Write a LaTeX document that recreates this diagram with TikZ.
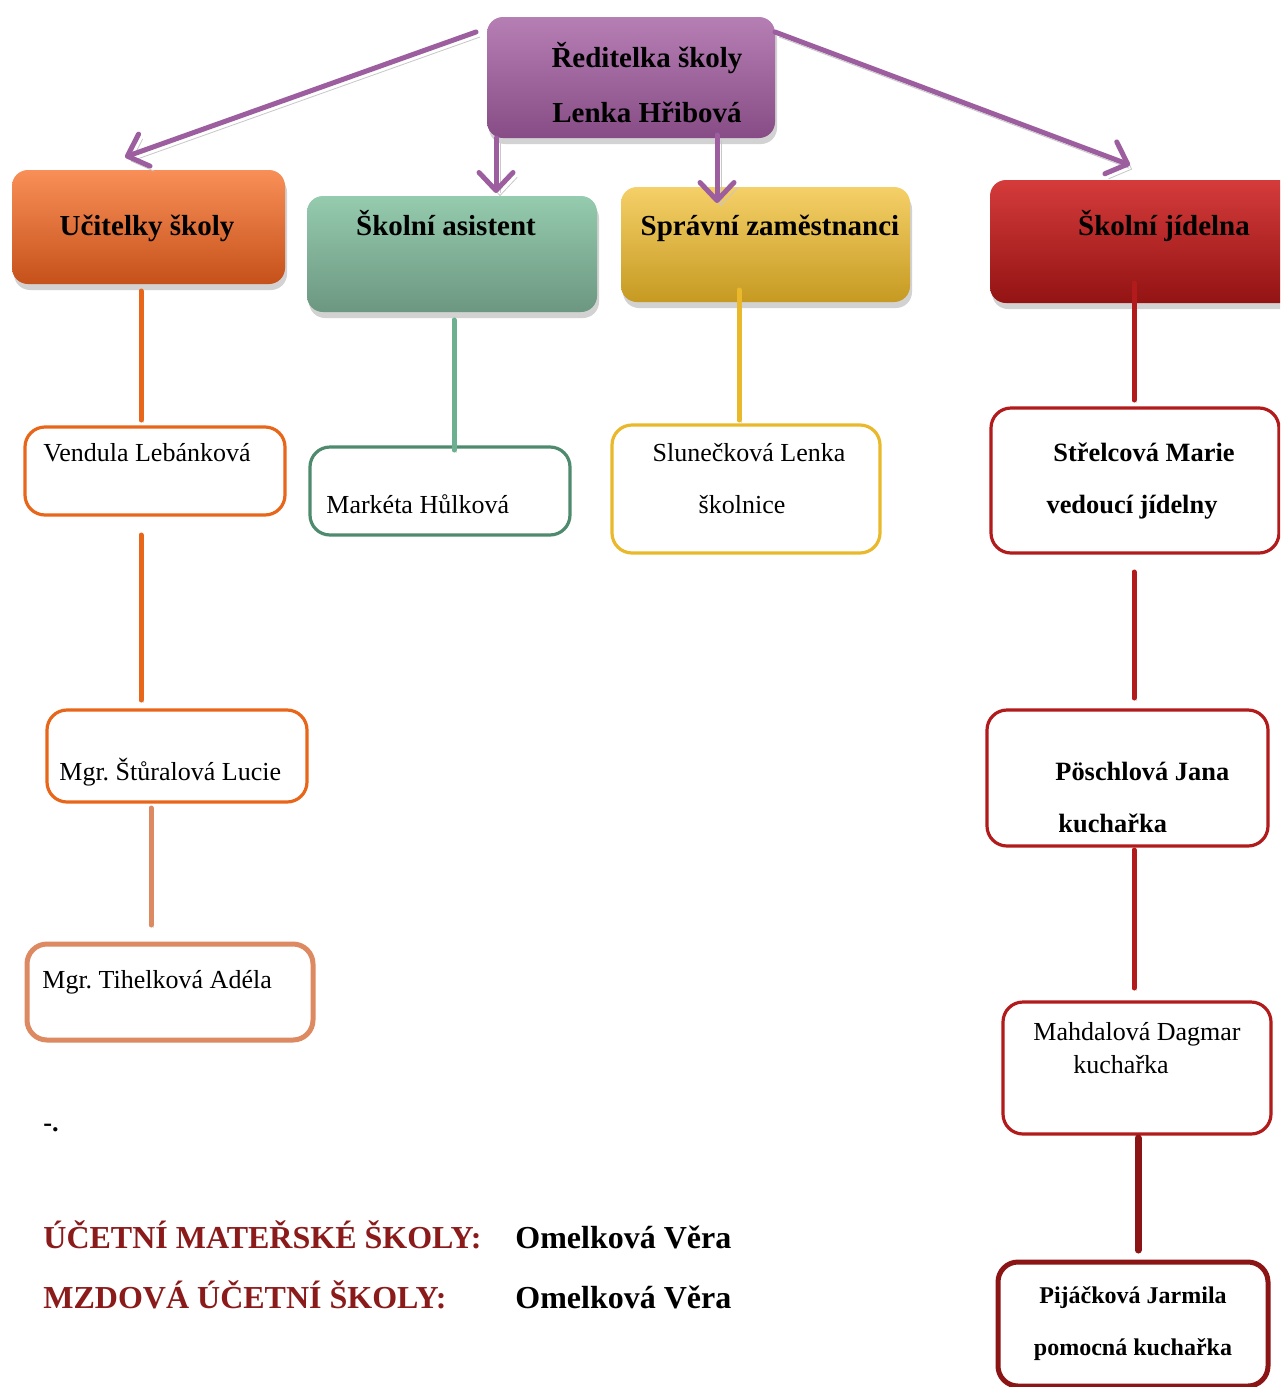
\documentclass[tikz,border=0pt]{standalone}
\usepackage{fontspec}
\setmainfont{Liberation Serif}
\usetikzlibrary{positioning,arrows.meta,shadows}

\definecolor{purp}{HTML}{9D5EA0}
\definecolor{dirtop}{HTML}{B67FB4}
\definecolor{dirbot}{HTML}{874C85}
\definecolor{teatop}{HTML}{F98F58}
\definecolor{teabot}{HTML}{C6511A}
\definecolor{asitop}{HTML}{95CBAE}
\definecolor{asibot}{HTML}{6C9781}
\definecolor{sprtop}{HTML}{F5D068}
\definecolor{sprbot}{HTML}{C69A22}
\definecolor{jidtop}{HTML}{D53B3B}
\definecolor{jidbot}{HTML}{931313}
\definecolor{orng}{HTML}{E8661A}
\definecolor{salm}{HTML}{DD8A63}
\definecolor{grnb}{HTML}{4E8B6E}
\definecolor{grnl}{HTML}{6DB08F}
\definecolor{yelw}{HTML}{E9B92B}
\definecolor{redl}{HTML}{B21B1B}
\definecolor{redd}{HTML}{8B1414}
\definecolor{footred}{HTML}{8B1A1A}

\begin{document}
\begin{tikzpicture}[x=0.5pt,y=-0.5pt,>={Straight Barb[length=9pt,width=17pt,round]},
  head/.style={rounded corners=8pt,inner sep=0pt,outer sep=0pt,
    drop shadow={shadow xshift=1pt,shadow yshift=-3pt,opacity=.35}},
  person/.style={draw,fill=white,rounded corners=10pt,line width=1.6pt,inner sep=0pt,outer sep=0pt},
  boss/.style={draw=purp,line width=2.5pt,line cap=round,->,
    preaction={draw=black!22,transform canvas={shift={(2pt,-2.5pt)}}}},
  link/.style={line width=2.5pt,line cap=round,
    preaction={draw=black!12,transform canvas={shift={(1.2pt,-1.5pt)}}}},
  hdtxt/.style={inner sep=0pt,anchor=base,font=\bfseries\fontsize{14.5}{17}\selectfont},
  ptxt/.style={inner sep=0pt,font=\fontsize{13}{16}\selectfont},
  pbold/.style={inner sep=0pt,font=\bfseries\fontsize{13.2}{16}\selectfont},
  foot/.style={inner sep=0pt,anchor=base west,font=\bfseries\fontsize{16}{19}\selectfont}]
\useasboundingbox (0,0) rectangle (1280,1387);
\fill[white] (0,0) rectangle (1280,1387);
\clip (0,0) rectangle (1280,1387);

% columns for the vertical lines
\coordinate (cA) at (141,0);
\coordinate (cA2) at (151,0);
\coordinate (cB) at (496,0);
\coordinate (cC) at (717,0);
\coordinate (cG) at (454,0);
\coordinate (cY) at (739,0);
\coordinate (cR) at (1134,0);
\coordinate (cR2) at (1138,0);

% director
\node[head,top color=dirtop,bottom color=dirbot,minimum width=144pt,minimum height=60.5pt] (dir) at (631,77.5) {};
\node[hdtxt] (dirA) at (647,67) {Ředitelka školy};
\node[hdtxt] (dirB) at (647,122) {Lenka Hřibová};

% departments
\node[head,top color=teatop,bottom color=teabot,minimum width=136.5pt,minimum height=57pt] (teach) at (148.5,227) {};
\node[hdtxt] (teachT) at (147,235) {Učitelky školy};
\node[head,top color=asitop,bottom color=asibot,minimum width=145pt,minimum height=58pt] (asis) at (452,254) {};
\node[hdtxt] (asisT) at (446,235) {Školní asistent};
\node[head,top color=sprtop,bottom color=sprbot,minimum width=144.5pt,minimum height=57.5pt] (spr) at (765.5,244.5) {};
\node[hdtxt] (sprT) at (770,235) {Správní zaměstnanci};
\node[head,top color=jidtop,bottom color=jidbot,minimum width=155pt,minimum height=61.5pt] (jid) at (1145,241.5) {};
\node[hdtxt] (jidT) at (1164,235) {Školní jídelna};

% teachers
\node[person,draw=orng,minimum width=130pt,minimum height=44pt] (ven) at (155,471) {};
\node[ptxt,anchor=base west] (venT) at (43,461) {Vendula Lebánková};
\node[person,draw=orng,minimum width=130pt,minimum height=46pt] (stu) at (177,756) {};
\node[ptxt,anchor=base west] (stuT) at (59,780) {Mgr.\ Štůralová Lucie};
\node[person,draw=salm,line width=2.5pt,minimum width=143pt,minimum height=48pt] (tih) at (170,992) {};
\node[ptxt,anchor=base west] (tihT) at (42,988) {Mgr.\ Tihelková Adéla};

% assistant and staff
\node[person,draw=grnb,minimum width=130pt,minimum height=44pt] (mark) at (440,491) {};
\node[ptxt,anchor=base west] (markT) at (326,513) {Markéta Hůlková};
\node[person,draw=yelw,minimum width=134pt,minimum height=64pt] (slu) at (746,489) {};
\node[ptxt,anchor=base] (sluA) at (749,461) {Slunečková Lenka};
\node[ptxt,anchor=base] (sluB) at (742,513) {školnice};

% kitchen
\node[person,draw=redl,minimum width=144pt,minimum height=72.5pt] (str) at (1135,480.5) {};
\node[pbold,anchor=base] (strA) at (1144,461) {Střelcová Marie};
\node[pbold,anchor=base] (strB) at (1132,513) {vedoucí jídelny};
\node[person,draw=redl,minimum width=140.5pt,minimum height=68pt] (pos) at (1127.5,778) {};
\node[pbold,anchor=base west] (posA) at (1055,780) {Pöschlová Jana};
\node[pbold,anchor=base west] (posB) at (1058,832) {kuchařka};
\node[person,draw=redl,minimum width=134pt,minimum height=66pt] (mah) at (1137,1068) {};
\node[ptxt,anchor=base west] (mahA) at (1033,1040) {Mahdalová Dagmar};
\node[ptxt,anchor=base west] (mahB) at (1073,1073) {kuchařka};
\node[person,draw=redd,line width=2.5pt,minimum width=135pt,minimum height=62pt] (pij) at (1133,1324) {};
\node[pbold,anchor=base,font=\bfseries\fontsize{12}{14}\selectfont] (pijA) at (1133,1303) {Pijáčková Jarmila};
\node[pbold,anchor=base,font=\bfseries\fontsize{12}{14}\selectfont] (pijB) at (1133,1355) {pomocná kuchařka};

% arrows from the director
\draw[boss] ([shift={(-11,15)}]dir.north west) -- ([shift={(-23.5,-13)}]teach.north);
\draw[boss,shorten >=1.5pt] (dir.south -| cB) -- (asis.north -| cB);
\draw[boss,shorten <=-1.5pt,shorten >=-8pt] (dir.south -| cC) -- (spr.north -| cC);
\draw[boss] ([shift={(0,15)}]dir.north east) -- ([shift={(-15,-15)}]jid.north);

% vertical lines
\draw[link,draw=orng,shorten <=3.5pt,shorten >=3.5pt] (teach.south -| cA) -- (ven.north -| cA);
\draw[link,draw=orng,shorten <=10pt,shorten >=5pt] (ven.south -| cA) -- (stu.north -| cA);
\draw[link,draw=salm,shorten <=3pt,shorten >=9.5pt] (stu.south -| cA2) -- (tih.north -| cA2);
\draw[link,draw=grnl,shorten <=4pt,shorten >=-1.5pt] (asis.south -| cG) -- (mark.north -| cG);
\draw[link,draw=yelw,shorten <=-6pt,shorten >=2.5pt] (spr.south -| cY) -- (slu.north -| cY);
\draw[link,draw=redl,shorten <=-10pt,shorten >=4pt] (jid.south -| cR) -- (str.north -| cR);
\draw[link,draw=redl,shorten <=9.5pt,shorten >=6pt] (str.south -| cR) -- (pos.north -| cR);
\draw[link,draw=redl,shorten <=2pt,shorten >=7pt] (pos.south -| cR) -- (mah.north -| cR);
\draw[link,draw=redd,line width=3.5pt,shorten <=2pt,shorten >=6pt] (mah.south -| cR2) -- (pij.north -| cR2);

% accountants
\node[pbold,anchor=base west] (dash) at (43,1131) {-.};
\node[foot,text=footred] (accA) at (43,1248) {ÚČETNÍ MATEŘSKÉ ŠKOLY:};
\node[foot] (accAn) at (515,1248) {Omelková Věra};
\node[foot,text=footred] (accB) at (43,1308) {MZDOVÁ ÚČETNÍ ŠKOLY:};
\node[foot] (accBn) at (515,1308) {Omelková Věra};
\end{tikzpicture}
\end{document}
